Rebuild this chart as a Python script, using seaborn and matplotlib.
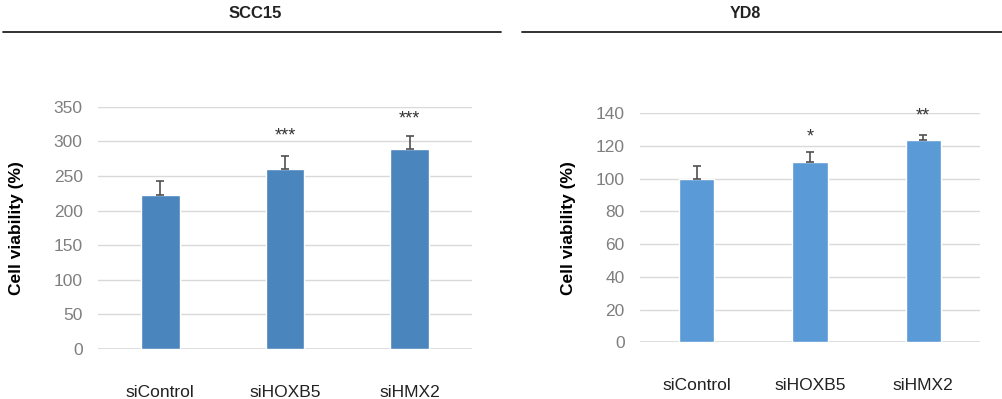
import numpy as np
import matplotlib
matplotlib.use("Agg")
import matplotlib.pyplot as plt
import seaborn as sns
from matplotlib.lines import Line2D

# --- Data ---
GROUPS = ["siControl", "siHOXB5", "siHMX2"]

SCC15_VALUES = [222, 260, 289]
SCC15_ERRORS = [20, 19, 19]
SCC15_STARS = ["", "***", "***"]
SCC15_STAR_LEVELS = [0, 295, 320]

YD8_VALUES = [100, 110.5, 123.7]
YD8_ERRORS = [8, 6, 3]
YD8_STARS = ["", "*", "**"]
YD8_STAR_LEVELS = [0, 120.5, 133]

sns.set_theme(style="white")
plt.rcParams["font.family"] = ["Liberation Sans", "DejaVu Sans"]

GRID_COLOR = "#d9d9d9"
TICK_COLOR = "#7f7f7f"


def draw_panel(ax, values, errors, stars, star_levels, color, ymax, step):
    sns.barplot(x=GROUPS, y=values, color=color, width=0.31, saturation=1,
                errorbar=None, ax=ax, zorder=3)
    xs = np.arange(len(GROUPS))
    ax.errorbar(xs, values, yerr=[np.zeros(len(errors)), errors], fmt="none",
                ecolor="#505050", elinewidth=1.2, capsize=3, capthick=1.2, zorder=4)
    for x, s, lvl in zip(xs, stars, star_levels):
        if s:
            ax.text(x, lvl, s, ha="center", va="bottom",
                    fontsize=13, color="#333333")
    ax.set_ylim(0, ymax)
    ax.set_xlim(-0.5, len(GROUPS) - 0.5)
    ax.set_yticks(np.arange(0, ymax + 1, step))
    ax.yaxis.grid(True, color=GRID_COLOR, linewidth=1.0, zorder=0)
    ax.set_axisbelow(True)
    for sp in ax.spines.values():
        sp.set_visible(False)
    ax.axhline(0, color=GRID_COLOR, linewidth=1.2, zorder=2)
    ax.tick_params(axis="y", length=0, labelsize=12.5, colors=TICK_COLOR, pad=11)
    ax.tick_params(axis="x", length=0, labelsize=12.5, colors="#222222", pad=26)
    ax.set_ylabel("Cell viability (%)", fontsize=12.5, fontweight="bold",
                  color="black")


fig = plt.figure(figsize=(10.02, 3.99), dpi=100)

ax1 = fig.add_axes([0.0978, 0.1253, 0.3733, 0.6073])
draw_panel(ax1, SCC15_VALUES, SCC15_ERRORS, SCC15_STARS, SCC15_STAR_LEVELS,
           "#4a85bd", 350, 50)
ax1.yaxis.set_label_coords(-0.198, 0.5)

ax2 = fig.add_axes([0.6387, 0.1421, 0.3393, 0.574])
draw_panel(ax2, YD8_VALUES, YD8_ERRORS, YD8_STARS, YD8_STAR_LEVELS,
           "#5a9ad6", 140, 20)
ax2.yaxis.set_label_coords(-0.188, 0.5)

# panel headers
fig.text(255 / 1002, 1 - 13 / 399, "SCC15", ha="center", va="center",
         fontsize=12, fontweight="bold", color="#222222")
fig.text(745 / 1002, 1 - 13 / 399, "YD8", ha="center", va="center",
         fontsize=11.5, fontweight="bold", color="#222222")
y_line = 1 - 32 / 399
fig.add_artist(Line2D([3 / 1002, 501 / 1002], [y_line, y_line],
                      color="#222222", linewidth=1.3))
fig.add_artist(Line2D([522 / 1002, 1.0], [y_line, y_line],
                      color="#222222", linewidth=1.3))

fig.savefig("out.png", dpi=100)
